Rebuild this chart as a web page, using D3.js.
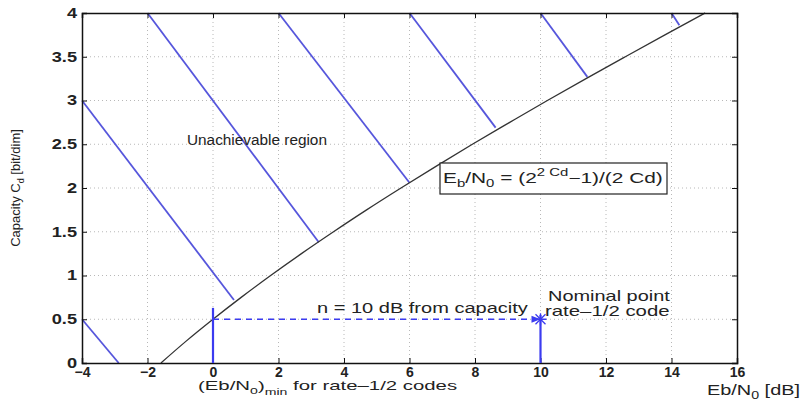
<!DOCTYPE html>
<html>
<head>
<meta charset="utf-8">
<script src="https://cdn.jsdelivr.net/npm/d3@7"></script>
<style>
  html, body { margin: 0; padding: 0; background: #fff; }
  svg { display: block; font-family: "Liberation Sans", Arial, Helvetica, sans-serif; }
</style>
</head>
<body>
<svg id="chart" width="804" height="404"></svg>
<script>
// ── Data ─────────────────────────────────────────────────────────────
const xTicks = [-4, -2, 0, 2, 4, 6, 8, 10, 12, 14, 16];
const yTicks = [0, 0.5, 1, 1.5, 2, 2.5, 3, 3.5, 4];

// capacity curve: C_d [bit/dim] vs Eb/N0 [dB]
const capC  = [0, 0.25, 0.5, 0.75, 1, 1.25, 1.5, 1.75, 2, 2.25, 2.5, 2.75, 3, 3.25, 3.5, 3.75, 4];
const capDb = [-1.59, -0.82, 0, 0.86, 1.76, 2.70, 3.68, 4.69, 5.74, 6.82, 7.92, 9.06, 10.21, 11.39, 12.59, 13.80, 15.03];

// hatch segments of the unachievable region
const hatchX0 = [-4, -4, -2, 2, 6, 10, 14];
const hatchY0 = [0.5, 3, 4, 4, 4, 4, 4];
const hatchX1 = [-2.88, 0.64, 3.23, 6.0, 8.63, 11.43, 14.24];
const hatchY1 = [0, 0.72, 1.38, 2.06, 2.69, 3.27, 3.86];

// annotation values
const ebMin = 0, ebNominal = 10, rateC = 0.5;
const minStemTop = 0.63, nominalStemTop = 0.55;

// ── Layout ───────────────────────────────────────────────────────────
const W = 804, H = 404;
const m = { left: 82, right: 67, top: 13, bottom: 41 };
const svg = d3.select("#chart");

const x = d3.scaleLinear().domain([-4, 16]).range([m.left, W - m.right]);
const y = d3.scaleLinear().domain([0, 4]).range([H - m.bottom, m.top]);

const blue = "#3b3bf0", hatchBlue = "#5656dc", ink = "#222";

// text placed at (tx, ty) and stretched horizontally to width w (the picture is wide)
function label(tx, ty, w, size = 14) {
    const g = svg.append("g");
    const t = g.append("text").attr("font-size", size).attr("fill", ink);
    t.fit = () => {
        const bw = t.node().getBBox().width;
        g.attr("transform", `translate(${tx},${ty}) scale(${w / bw},1)`);
        return t;
    };
    return t;
}

// ── Grid ─────────────────────────────────────────────────────────────
const grid = svg.append("g").attr("stroke", "#b8b8b8").attr("stroke-width", 1).attr("stroke-dasharray", "1,3");
grid.selectAll(".gx").data(xTicks.slice(1, -1)).enter().append("line")
    .attr("x1", d => x(d)).attr("x2", d => x(d)).attr("y1", y(0)).attr("y2", y(4));
grid.selectAll(".gy").data(yTicks.slice(1, -1)).enter().append("line")
    .attr("x1", x(-4)).attr("x2", x(16)).attr("y1", d => y(d)).attr("y2", d => y(d));

// ── Hatching ─────────────────────────────────────────────────────────
svg.append("g").selectAll("line").data(d3.range(hatchX0.length)).enter().append("line")
    .attr("x1", i => x(hatchX0[i])).attr("y1", i => y(hatchY0[i]))
    .attr("x2", i => x(hatchX1[i])).attr("y2", i => y(hatchY1[i]))
    .attr("stroke", hatchBlue).attr("stroke-width", 1.8);

// ── Capacity curve ───────────────────────────────────────────────────
const line = d3.line().x(i => x(capDb[i])).y(i => y(capC[i])).curve(d3.curveMonotoneX);
svg.append("path").attr("d", line(d3.range(capC.length)))
    .attr("fill", "none").attr("stroke", "#333").attr("stroke-width", 1.3);

// ── Axes (matlab style box, inward ticks) ────────────────────────────
const tl = 5;
const axB = svg.append("g").attr("transform", `translate(0,${y(0)})`)
    .call(d3.axisBottom(x).tickValues(xTicks).tickSize(-tl).tickPadding(4).tickFormat(d => d < 0 ? "\u2212" + (-d) : d));
const axT = svg.append("g").attr("transform", `translate(0,${y(4)})`)
    .call(d3.axisTop(x).tickValues(xTicks).tickSize(-tl).tickFormat(""));
const axL = svg.append("g").attr("transform", `translate(${x(-4)},0)`)
    .call(d3.axisLeft(y).tickValues(yTicks).tickSize(-tl).tickPadding(5).tickFormat(d3.format("")));
const axR = svg.append("g").attr("transform", `translate(${x(16)},0)`)
    .call(d3.axisRight(y).tickValues(yTicks).tickSize(-tl).tickFormat(""));
[axB, axT, axL, axR].forEach(a => {
    a.select(".domain").attr("stroke", "#111").attr("stroke-width", 1.5);
    a.selectAll(".tick line").attr("stroke", "#111");
    a.selectAll("text").attr("font-size", 14).attr("fill", ink).attr("font-weight", "bold")
        .attr("font-family", "'Liberation Sans', Arial, sans-serif");
});
axL.selectAll(".tick text").each(function () {
    const w = this.getComputedTextLength();
    d3.select(this).attr("textLength", w * 1.3).attr("lengthAdjust", "spacingAndGlyphs");
});

// ── Annotation: min point, rate-1/2 gap ──────────────────────────────
svg.append("line").attr("x1", x(ebMin)).attr("x2", x(ebMin))
    .attr("y1", y(0)).attr("y2", y(minStemTop)).attr("stroke", blue).attr("stroke-width", 2.2);
svg.append("line").attr("x1", x(ebNominal)).attr("x2", x(ebNominal))
    .attr("y1", y(0)).attr("y2", y(nominalStemTop)).attr("stroke", blue).attr("stroke-width", 2.2);
svg.append("line").attr("x1", x(ebMin)).attr("x2", x(ebNominal) - 8)
    .attr("y1", y(rateC)).attr("y2", y(rateC))
    .attr("stroke", blue).attr("stroke-width", 1.5).attr("stroke-dasharray", "6,5");
const ax = x(ebNominal), ay = y(rateC);
svg.append("path").attr("d", `M${ax},${ay} L${ax - 9},${ay - 3.5} L${ax - 9},${ay + 3.5} Z`).attr("fill", blue);
svg.append("path").attr("d", `M${ax - 5},${ay - 5} L${ax + 5},${ay + 5} M${ax - 5},${ay + 5} L${ax + 5},${ay - 5}`)
    .attr("stroke", blue).attr("stroke-width", 1.3);
svg.append("path").attr("d", `M${ax - 6},${ay} H${ax + 6} M${ax},${ay - 6} V${ay + 6}`)
    .attr("stroke", blue).attr("stroke-width", 1.3);

// ── Texts ────────────────────────────────────────────────────────────
label(187, 145, 140).text("Unachievable region").fit();
label(317, 313, 211).text("n = 10 dB from capacity").fit();
label(548, 301, 122).text("Nominal point").fit();
label(545, 316, 125).text("rate\u20131/2 code").fit();

// formula box
svg.append("rect").attr("x", 440).attr("y", 163).attr("width", 227).attr("height", 31)
    .attr("fill", "#fff").attr("stroke", "#222").attr("stroke-width", 1.2);
const f = label(443, 183, 220, 14);
f.append("tspan").text("E");
f.append("tspan").attr("font-size", 10).attr("dy", 4).text("b");
f.append("tspan").attr("dy", -4).text("/N");
f.append("tspan").attr("font-size", 10).attr("dy", 4).text("0");
f.append("tspan").attr("dy", -4).text(" = (2");
f.append("tspan").attr("font-size", 10).attr("dy", -7).text("2 Cd");
f.append("tspan").attr("dy", 7).text("\u22121)/(2 Cd)");
f.fit();

// x label min
const xm = label(198, 390, 260, 13);
xm.append("tspan").text("(Eb/N");
xm.append("tspan").attr("font-size", 9).attr("dy", 4).text("0");
xm.append("tspan").attr("dy", -4).text(")");
xm.append("tspan").attr("font-size", 9).attr("dy", 5).text("min");
xm.append("tspan").attr("dy", -5).text(" for rate\u20131/2 codes");
xm.fit();

// x axis label
const xl = label(707, 395, 93, 14);
xl.append("tspan").text("Eb/N");
xl.append("tspan").attr("font-size", 10).attr("dy", 4).text("0");
xl.append("tspan").attr("dy", -4).text(" [dB]");
xl.fit();

// y axis label
const yl = svg.append("text").attr("transform", `translate(20,${(y(0) + y(4)) / 2}) rotate(-90)`)
    .attr("text-anchor", "middle").attr("font-size", 13).attr("fill", ink);
yl.append("tspan").text("Capacity C");
yl.append("tspan").attr("font-size", 9).attr("dy", 4).text("d");
yl.append("tspan").attr("dy", -4).text(" [bit/dim]");
</script>
</body>
</html>
